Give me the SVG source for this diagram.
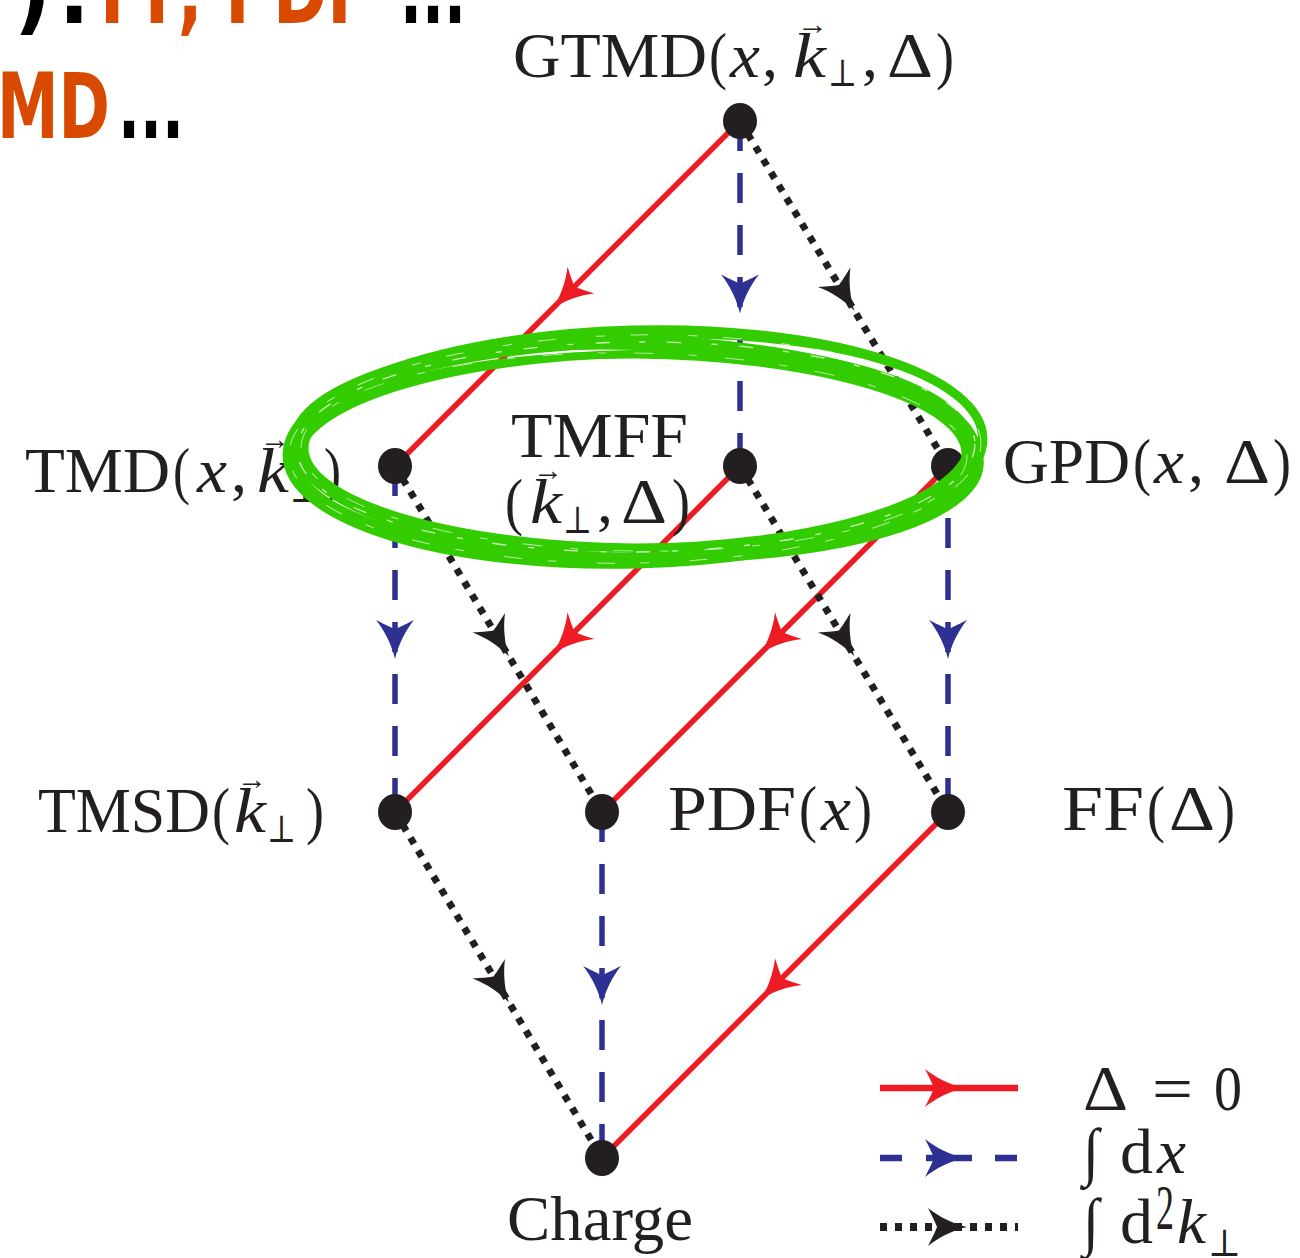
<svg xmlns="http://www.w3.org/2000/svg" width="1300" height="1258" viewBox="0 0 1300 1258">
<style>
.t{font-family:"Liberation Serif","DejaVu Serif",serif;font-size:64px;fill:#231f20}
.i{font-style:italic}
.s{font-size:38px}
.v{font-size:30px}
.hd{font-family:"Liberation Sans Narrow","DejaVu Sans Condensed","Liberation Sans",sans-serif;font-stretch:condensed;font-weight:bold;font-size:90px}
.red{fill:none;stroke:#ed1c24;stroke-width:5.5;marker-mid:url(#mr)}
.blue{fill:none;stroke:#2e3192;stroke-width:5.5;stroke-dasharray:30 22;marker-mid:url(#mb)}
.dot{fill:none;stroke:#231f20;stroke-width:7;stroke-dasharray:7 8;marker-mid:url(#mk)}
.node{fill:#231f20}
.g{fill:none;stroke:#33cc00}
.w{fill:none;stroke:#ffffff}
</style>
<defs>
<marker id="mr" markerUnits="userSpaceOnUse" orient="auto" overflow="visible" markerWidth="1" markerHeight="1"><path d="M20,0 C7,-3 -8,-10 -19,-19 C-14,-9 -11,-3 -10,0 C-11,3 -14,9 -19,19 C-8,10 7,3 20,0 Z" fill="#ed1c24"/></marker>
<marker id="mb" markerUnits="userSpaceOnUse" orient="auto" overflow="visible" markerWidth="1" markerHeight="1"><path d="M20,0 C7,-3 -8,-10 -19,-19 C-14,-9 -11,-3 -10,0 C-11,3 -14,9 -19,19 C-8,10 7,3 20,0 Z" fill="#2e3192"/></marker>
<marker id="mk" markerUnits="userSpaceOnUse" orient="auto" overflow="visible" markerWidth="1" markerHeight="1"><path d="M20,0 C7,-3 -8,-10 -19,-19 C-14,-9 -11,-3 -10,0 C-11,3 -14,9 -19,19 C-8,10 7,3 20,0 Z" fill="#231f20"/></marker>
</defs>
<rect width="1300" height="1258" fill="#fff"/>

<g id="header">
<text class="hd" y="23"><tspan x="14" fill="#000">)</tspan><tspan x="58" fill="#000">:</tspan><tspan x="100" fill="#d84a00" textLength="272" lengthAdjust="spacingAndGlyphs">FF, PDF</tspan><tspan x="400" fill="#000" textLength="66" lengthAdjust="spacingAndGlyphs">...</tspan></text>
<text class="hd" y="138"><tspan x="-3" fill="#d84a00" textLength="113" lengthAdjust="spacingAndGlyphs">MD</tspan><tspan x="118" fill="#000" textLength="66" lengthAdjust="spacingAndGlyphs">...</tspan></text>
</g>

<g id="connectors">
<path class="red" d="M740,121 L567.5,293.5 L395,466"/>
<path class="red" d="M740,466 L567.5,639 L395,812"/>
<path class="red" d="M948,466 L775,639 L602,812"/>
<path class="red" d="M948,812 L775,985 L602,1158"/>
<path class="blue" d="M740,121 L740,293.5 L740,466"/>
<path class="blue" d="M395,466 L395,639 L395,812"/>
<path class="blue" d="M948,466 L948,639 L948,812"/>
<path class="blue" d="M602,812 L602,985 L602,1158"/>
<path class="dot" d="M740,121 L844,293.5 L948,466"/>
<path class="dot" d="M395,466 L498.5,639 L602,812"/>
<path class="dot" d="M740,466 L844,639 L948,812"/>
<path class="dot" d="M395,812 L498.5,985 L602,1158"/>
</g>

<g id="GTMD">
<ellipse class="node" cx="740" cy="121" rx="17" ry="18"/>
<text class="t" y="77"><tspan x="513" textLength="194" lengthAdjust="spacingAndGlyphs">GTMD</tspan><tspan x="709" textLength="18" lengthAdjust="spacingAndGlyphs">(</tspan><tspan x="730" class="i" textLength="30" lengthAdjust="spacingAndGlyphs">x</tspan><tspan x="762">,</tspan><tspan x="793" class="i" textLength="33" lengthAdjust="spacingAndGlyphs">k</tspan><tspan x="862">,</tspan><tspan x="887" textLength="46" lengthAdjust="spacingAndGlyphs">Δ</tspan><tspan x="936" textLength="18" lengthAdjust="spacingAndGlyphs">)</tspan></text>
<text class="t v" x="797" y="34" textLength="31" lengthAdjust="spacingAndGlyphs">→</text>
<text class="t s" x="828" y="86" textLength="29" lengthAdjust="spacingAndGlyphs">⊥</text>
</g>

<g id="TMD">
<ellipse class="node" cx="395" cy="466" rx="17" ry="18"/>
<text class="t" y="492"><tspan x="25" textLength="145" lengthAdjust="spacingAndGlyphs">TMD</tspan><tspan x="173" textLength="17" lengthAdjust="spacingAndGlyphs">(</tspan><tspan x="197" class="i" textLength="30" lengthAdjust="spacingAndGlyphs">x</tspan><tspan x="231">,</tspan><tspan x="257" class="i" textLength="32" lengthAdjust="spacingAndGlyphs">k</tspan><tspan x="324" textLength="17" lengthAdjust="spacingAndGlyphs">)</tspan></text>
<text class="t v" x="260" y="449" textLength="30" lengthAdjust="spacingAndGlyphs">→</text>
<text class="t s" x="290" y="502" textLength="29" lengthAdjust="spacingAndGlyphs">⊥</text>
</g>

<g id="TMFF">
<ellipse class="node" cx="740" cy="466" rx="17" ry="18"/>
<text class="t" x="511" y="457" textLength="177" lengthAdjust="spacingAndGlyphs">TMFF</text>
<text class="t" y="523"><tspan x="505" textLength="18" lengthAdjust="spacingAndGlyphs">(</tspan><tspan x="530" class="i" textLength="32" lengthAdjust="spacingAndGlyphs">k</tspan><tspan x="597">,</tspan><tspan x="621" textLength="46" lengthAdjust="spacingAndGlyphs">Δ</tspan><tspan x="672" textLength="18" lengthAdjust="spacingAndGlyphs">)</tspan></text>
<text class="t v" x="533" y="480" textLength="30" lengthAdjust="spacingAndGlyphs">→</text>
<text class="t s" x="563" y="533" textLength="29" lengthAdjust="spacingAndGlyphs">⊥</text>
</g>

<g id="GPD">
<ellipse class="node" cx="948" cy="466" rx="17" ry="18"/>
<text class="t" y="483"><tspan x="1003" textLength="127" lengthAdjust="spacingAndGlyphs">GPD</tspan><tspan x="1133" textLength="18" lengthAdjust="spacingAndGlyphs">(</tspan><tspan x="1154" class="i" textLength="30" lengthAdjust="spacingAndGlyphs">x</tspan><tspan x="1188">,</tspan><tspan x="1224" textLength="46" lengthAdjust="spacingAndGlyphs">Δ</tspan><tspan x="1273" textLength="18" lengthAdjust="spacingAndGlyphs">)</tspan></text>
</g>

<g id="TMSD">
<ellipse class="node" cx="395" cy="812" rx="17" ry="18"/>
<text class="t" y="832"><tspan x="38" textLength="172" lengthAdjust="spacingAndGlyphs">TMSD</tspan><tspan x="212" textLength="18" lengthAdjust="spacingAndGlyphs">(</tspan><tspan x="234" class="i" textLength="32" lengthAdjust="spacingAndGlyphs">k</tspan><tspan x="306" textLength="18" lengthAdjust="spacingAndGlyphs">)</tspan></text>
<text class="t v" x="237" y="789" textLength="30" lengthAdjust="spacingAndGlyphs">→</text>
<text class="t s" x="267" y="842" textLength="29" lengthAdjust="spacingAndGlyphs">⊥</text>
</g>

<g id="PDF">
<ellipse class="node" cx="602" cy="812" rx="17" ry="18"/>
<text class="t" y="830"><tspan x="668" textLength="128" lengthAdjust="spacingAndGlyphs">PDF</tspan><tspan x="799" textLength="18" lengthAdjust="spacingAndGlyphs">(</tspan><tspan x="821" class="i" textLength="30" lengthAdjust="spacingAndGlyphs">x</tspan><tspan x="854" textLength="18" lengthAdjust="spacingAndGlyphs">)</tspan></text>
</g>

<g id="FF">
<ellipse class="node" cx="948" cy="812" rx="17" ry="18"/>
<text class="t" y="830"><tspan x="1062" textLength="82" lengthAdjust="spacingAndGlyphs">FF</tspan><tspan x="1147" textLength="18" lengthAdjust="spacingAndGlyphs">(</tspan><tspan x="1169" textLength="46" lengthAdjust="spacingAndGlyphs">Δ</tspan><tspan x="1217" textLength="18" lengthAdjust="spacingAndGlyphs">)</tspan></text>
</g>

<g id="Charge">
<ellipse class="node" cx="602" cy="1158" rx="17" ry="18"/>
<text class="t" x="507" y="1240" textLength="186" lengthAdjust="spacingAndGlyphs">Charge</text>
</g>

<g id="legend">
<path d="M880,1088 L944,1088 L1018,1088" fill="none" stroke="#ed1c24" stroke-width="6.5" marker-mid="url(#mr)"/>
<path d="M880,1158 L944,1158 L1018,1158" fill="none" stroke="#2e3192" stroke-width="6.5" stroke-dasharray="22 24 46 23" marker-mid="url(#mb)"/>
<path d="M880,1227 L947,1227 L1018,1227" fill="none" stroke="#231f20" stroke-width="8" stroke-dasharray="7 8" marker-mid="url(#mk)"/>
<text class="t" y="1110"><tspan x="1083" textLength="45" lengthAdjust="spacingAndGlyphs">Δ</tspan><tspan x="1152" textLength="41" lengthAdjust="spacingAndGlyphs">=</tspan><tspan x="1214" textLength="28" lengthAdjust="spacingAndGlyphs">0</tspan></text>
<text class="t" y="1173"><tspan x="1083" textLength="16" lengthAdjust="spacingAndGlyphs">∫</tspan><tspan x="1120" textLength="33" lengthAdjust="spacingAndGlyphs">d</tspan><tspan x="1157" class="i" textLength="29" lengthAdjust="spacingAndGlyphs">x</tspan></text>
<text class="t" y="1243"><tspan x="1083" textLength="16" lengthAdjust="spacingAndGlyphs">∫</tspan><tspan x="1120" textLength="33" lengthAdjust="spacingAndGlyphs">d</tspan><tspan x="1177" class="i" textLength="29" lengthAdjust="spacingAndGlyphs">k</tspan></text>
<text class="t" x="1156" y="1229" font-size="42" textLength="18" lengthAdjust="spacingAndGlyphs">2</text>
<text class="t s" x="1208" y="1256" textLength="33" lengthAdjust="spacingAndGlyphs">⊥</text>
</g>

<g id="highlight">
<ellipse class="g" cx="635" cy="447" rx="348" ry="117" stroke-width="9" transform="rotate(-1.5 635 447)"/>
<ellipse class="g" cx="636" cy="449" rx="341" ry="109" stroke-width="9" transform="rotate(1 636 449)"/>
<ellipse class="g" cx="634" cy="446" rx="335" ry="102" stroke-width="8" transform="rotate(-0.5 634 446)"/>
<ellipse class="g" cx="637" cy="452" rx="343" ry="106" stroke-width="8" transform="rotate(2 637 452)"/>
<ellipse class="g" cx="633" cy="455" rx="336" ry="101" stroke-width="8" transform="rotate(-1 633 455)"/>
<ellipse class="g" cx="635" cy="451" rx="330" ry="96" stroke-width="7" transform="rotate(0.5 635 451)"/>
<ellipse class="g" cx="636" cy="448" rx="345" ry="112" stroke-width="6" transform="rotate(-2.2 636 448)"/>
<ellipse class="w" cx="636" cy="447" rx="339" ry="105" stroke-width="1.3" stroke-dasharray="14 30 6 22" opacity="0.75" transform="rotate(-0.5 636 447)"/>
<ellipse class="w" cx="635" cy="449" rx="346" ry="114" stroke-width="1" stroke-dasharray="9 26 18 40" opacity="0.65" transform="rotate(-1 635 449)"/>
<ellipse class="w" cx="634" cy="452" rx="333" ry="99" stroke-width="1" stroke-dasharray="20 35 8 28" opacity="0.6" transform="rotate(0.8 634 452)"/>
</g>
</svg>
